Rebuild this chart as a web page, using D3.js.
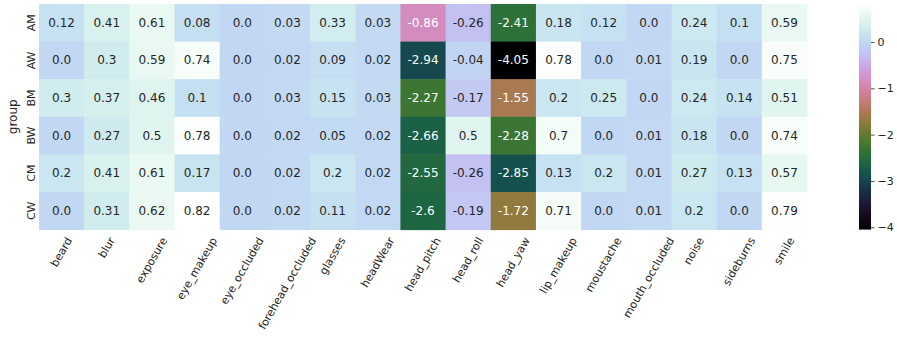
<!DOCTYPE html>
<html>
<head>
<meta charset="utf-8">
<script src="https://cdn.jsdelivr.net/npm/d3@7"></script>
<style>
  body { margin: 0; background: #fff; }
  text { font-family: "DejaVu Sans", sans-serif; }
</style>
</head>
<body>
<svg id="chart" width="897" height="340"></svg>
<script>
var groups = ["AM", "AW", "BM", "BW", "CM", "CW"];
var features = ["beard", "blur", "exposure", "eye_makeup", "eye_occluded", "forehead_occluded",
    "glasses", "headWear", "head_pitch", "head_roll", "head_yaw", "lip_makeup", "moustache",
    "mouth_occluded", "noise", "sideburns", "smile"];

var rowAM = [0.12, 0.41, 0.61, 0.08, 0.0, 0.03, 0.33, 0.03, -0.86, -0.26, -2.41, 0.18, 0.12, 0.0, 0.24, 0.1, 0.59];
var rowAW = [0.0, 0.3, 0.59, 0.74, 0.0, 0.02, 0.09, 0.02, -2.94, -0.04, -4.05, 0.78, 0.0, 0.01, 0.19, 0.0, 0.75];
var rowBM = [0.3, 0.37, 0.46, 0.1, 0.0, 0.03, 0.15, 0.03, -2.27, -0.17, -1.55, 0.2, 0.25, 0.0, 0.24, 0.14, 0.51];
var rowBW = [0.0, 0.27, 0.5, 0.78, 0.0, 0.02, 0.05, 0.02, -2.66, 0.5, -2.28, 0.7, 0.0, 0.01, 0.18, 0.0, 0.74];
var rowCM = [0.2, 0.41, 0.61, 0.17, 0.0, 0.02, 0.2, 0.02, -2.55, -0.26, -2.85, 0.13, 0.2, 0.01, 0.27, 0.13, 0.57];
var rowCW = [0.0, 0.31, 0.62, 0.82, 0.0, 0.02, 0.11, 0.02, -2.6, -0.19, -1.72, 0.71, 0.0, 0.01, 0.2, 0.0, 0.79];

var colorbarTicks = [0, -1, -2, -3, -4];

var rows = [rowAM, rowAW, rowBM, rowBW, rowCM, rowCW];
var cells = [];
rows.forEach(function (r, i) {
    r.forEach(function (v, j) {
        cells.push({ group: groups[i], feature: features[j], value: v });
    });
});

var svg = d3.select("#chart"),
    margin = { top: 4, left: 39 },
    width = 768,
    height = 225.6;

var allVals = cells.map(function (d) { return d.value; });
var vmin = d3.min(allVals), vmax = d3.max(allVals);

var x = d3.scaleBand().domain(features).range([0, width]);
var y = d3.scaleBand().domain(groups).range([0, height]);
var color = d3.scaleSequential(d3.interpolateCubehelixDefault).domain([vmin, vmax]);

function lum(c) {
    var rgb = d3.rgb(c);
    var ch = [rgb.r, rgb.g, rgb.b].map(function (v) {
        v = v / 255;
        return v <= 0.03928 ? v / 12.92 : Math.pow((v + 0.055) / 1.055, 2.4);
    });
    return 0.2126 * ch[0] + 0.7152 * ch[1] + 0.0722 * ch[2];
}

function fmt(v) {
    return Number.isInteger(v) ? v.toFixed(1) : String(v);
}

var g = svg.append("g")
    .attr("transform", "translate(" + margin.left + "," + margin.top + ")");

g.selectAll(".cell")
    .data(cells)
    .enter().append("rect")
    .attr("class", "cell")
    .attr("x", function (d) { return x(d.feature); })
    .attr("y", function (d) { return y(d.group); })
    .attr("width", x.bandwidth() + 0.5)
    .attr("height", y.bandwidth() + 0.5)
    .attr("fill", function (d) { return color(d.value); });

g.selectAll(".annot")
    .data(cells)
    .enter().append("text")
    .attr("class", "annot")
    .attr("x", function (d) { return x(d.feature) + x.bandwidth() / 2; })
    .attr("y", function (d) { return y(d.group) + y.bandwidth() / 2; })
    .attr("text-anchor", "middle")
    .attr("dominant-baseline", "central")
    .style("font-size", "12px")
    .attr("fill", function (d) { return lum(color(d.value)) > 0.408 ? "#262626" : "#ffffff"; })
    .text(function (d) { return fmt(d.value); });

// y axis labels (vertical)
g.selectAll(".ylab")
    .data(groups)
    .enter().append("text")
    .attr("class", "ylab")
    .attr("transform", function (d) {
        return "translate(-4," + (y(d) + y.bandwidth() / 2) + ") rotate(-90)";
    })
    .attr("text-anchor", "middle")
    .style("font-size", "11px")
    .attr("fill", "#262626")
    .text(function (d) { return d; });

g.append("text")
    .attr("transform", "translate(-22," + (height / 2) + ") rotate(-90)")
    .attr("text-anchor", "middle")
    .style("font-size", "12px")
    .attr("fill", "#262626")
    .text("group");

// x axis labels rotated 60 deg, bbox centred under the column
var xl = g.selectAll(".xlab")
    .data(features)
    .enter().append("text")
    .attr("class", "xlab")
    .attr("text-anchor", "middle")
    .attr("dominant-baseline", "central")
    .style("font-size", "11px")
    .attr("fill", "#262626")
    .text(function (d) { return d; });

xl.attr("transform", function (d) {
    var L = this.getComputedTextLength();
    var h = 11;
    var bh = L * Math.sin(Math.PI / 3) + h * 0.5;
    var cx = x(d) + x.bandwidth() / 2;
    var cy = height + 6 + bh / 2;
    return "translate(" + cx + "," + cy + ") rotate(-60)";
});

// colorbar
var cbX = 859, cbW = 12;
var cy = d3.scaleLinear().domain([vmin, vmax]).range([margin.top + height, margin.top]);

var grad = svg.append("defs").append("linearGradient")
    .attr("id", "cbgrad")
    .attr("x1", "0").attr("y1", "1").attr("x2", "0").attr("y2", "0");
d3.range(0, 1.0001, 0.02).forEach(function (t) {
    grad.append("stop")
        .attr("offset", t)
        .attr("stop-color", d3.interpolateCubehelixDefault(t));
});

svg.append("rect")
    .attr("x", cbX)
    .attr("y", cy(vmax))
    .attr("width", cbW)
    .attr("height", cy(vmin) - cy(vmax))
    .attr("fill", "url(#cbgrad)");

var cbAxis = svg.append("g")
    .attr("transform", "translate(" + (cbX + cbW) + ",0)")
    .call(d3.axisRight(cy).tickValues(colorbarTicks).tickSize(3.5).tickPadding(3)
        .tickFormat(function (d) { return d < 0 ? "\u2212" + Math.abs(d) : String(d); }));
cbAxis.select(".domain").remove();
cbAxis.selectAll("line").attr("stroke", "#262626").attr("stroke-width", 0.8);
cbAxis.selectAll("text")
    .style("font-size", "11px")
    .style("font-family", "DejaVu Sans, sans-serif")
    .attr("fill", "#262626");
</script>
</body>
</html>
